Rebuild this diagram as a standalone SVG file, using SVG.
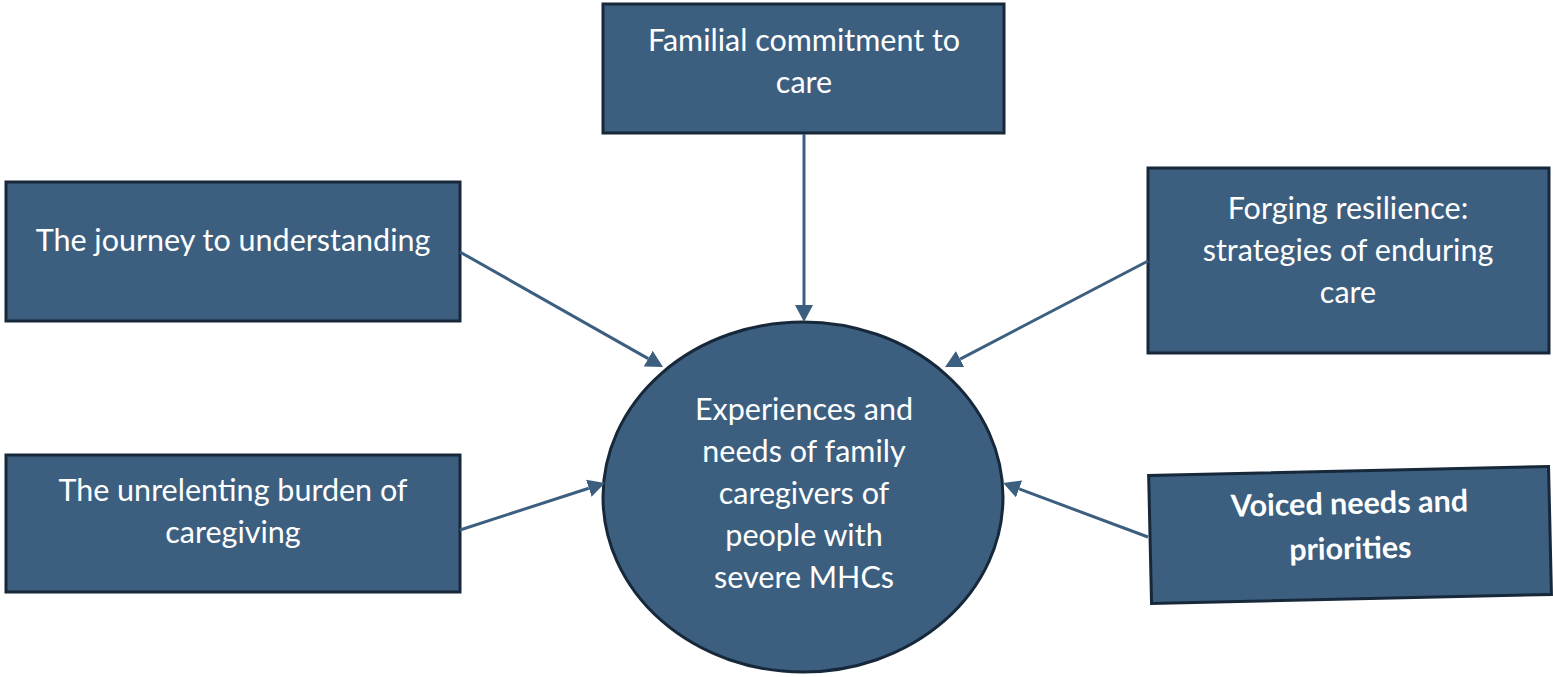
<svg xmlns="http://www.w3.org/2000/svg" width="1553" height="677" viewBox="0 0 1553 677">
<style>
.box{fill:#3c5f80;stroke:#16283a;stroke-width:3}
.t{fill:#ffffff;font-family:Lato,"Open Sans",sans-serif;font-size:30.5px;text-anchor:middle}
.b{font-weight:bold}
.c{stroke:#3c5f80;stroke-width:3;fill:none;marker-end:url(#ah)}
</style>
<defs>
<marker id="ah" viewBox="0 0 17 18" refX="0" refY="9" markerWidth="17" markerHeight="18" markerUnits="userSpaceOnUse" orient="auto">
<path d="M0,0 L17,9 L0,18 z" fill="#3c5f80"/>
</marker>
</defs>
<rect width="1553" height="677" fill="#ffffff"/>
<g id="center">
<ellipse class="box" cx="803" cy="497" rx="200" ry="175"/>
<text class="t"><tspan x="804" y="420">Experiences and</tspan><tspan x="804" y="462">needs of family</tspan><tspan x="804" y="504">caregivers of</tspan><tspan x="804" y="546">people with</tspan><tspan x="804" y="588">severe MHCs</tspan></text>
</g>
<g id="familial">
<rect class="box" x="603" y="4" width="401" height="129"/>
<text class="t"><tspan x="804" y="51">Familial commitment to</tspan><tspan x="804" y="93">care</tspan></text>
</g>
<g id="journey">
<rect class="box" x="6" y="182" width="454" height="139"/>
<text class="t"><tspan x="233" y="251">The journey to understanding</tspan></text>
</g>
<g id="resilience">
<rect class="box" x="1148" y="168" width="401" height="185"/>
<text class="t"><tspan x="1348" y="219">Forging resilience:</tspan><tspan x="1348" y="261">strategies of enduring</tspan><tspan x="1348" y="303">care</tspan></text>
</g>
<g id="burden">
<rect class="box" x="6" y="455" width="454" height="137"/>
<text class="t"><tspan x="233" y="501">The unrelenting burden of</tspan><tspan x="233" y="543">caregiving</tspan></text>
</g>
<g id="voiced" transform="rotate(-1.3 1350 533)">
<rect class="box" x="1150" y="471" width="400" height="128"/>
<text class="t b"><tspan x="1350" y="514">Voiced needs and</tspan><tspan x="1350" y="559">priorities</tspan></text>
</g>
<g id="connectors">
<line class="c" x1="804" y1="134" x2="804" y2="305"/>
<line class="c" x1="460" y1="252" x2="648.2" y2="358.6"/>
<line class="c" x1="1148" y1="261" x2="960.1" y2="359.1"/>
<line class="c" x1="460" y1="530" x2="588.8" y2="488.2"/>
<line class="c" x1="1148" y1="537" x2="1019.1" y2="488.9"/>
</g>
</svg>
